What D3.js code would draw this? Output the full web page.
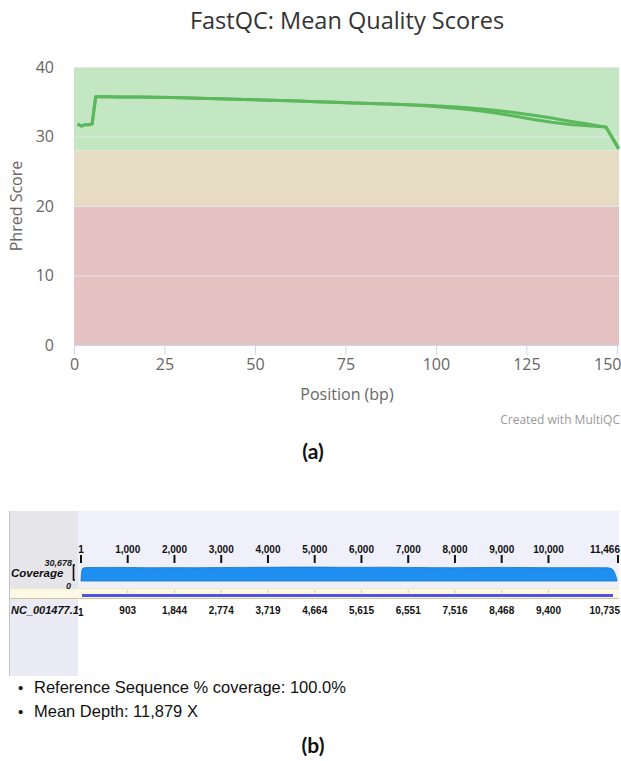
<!DOCTYPE html>
<html>
<head>
<meta charset="utf-8">
<script src="https://cdn.jsdelivr.net/npm/d3@7"></script>
<style>
  body { margin: 0; background: #fff; }
  svg { display: block; }
</style>
</head>
<body>
<div id="chart"></div>
<script>
// ---- panel (a): FastQC mean quality ----
const qualPositions = [1, 2, 3, 4, 5, 6, 7, 8, 9, 12, 17, 22, 27, 32, 37, 42, 47, 52, 57, 62, 67, 72,
    77, 82, 87, 92, 97, 102, 107, 112, 117, 122, 127, 132, 137, 142, 147, 150.5]
const read1Scores = [31.8, 31.5, 31.7, 31.7, 31.8, 35.72, 35.72, 35.72, 35.72, 35.7, 35.68, 35.64, 35.6,
    35.55, 35.48, 35.4, 35.33, 35.26, 35.18, 35.1, 35.01, 34.92, 34.82, 34.74, 34.66, 34.58, 34.48,
    34.36, 34.2, 34.0, 33.75, 33.42, 33.05, 32.65, 32.2, 31.8, 31.35, 28.3]
const read2Scores = [31.8, 31.5, 31.7, 31.7, 31.8, 35.72, 35.72, 35.72, 35.72, 35.7, 35.68, 35.64, 35.6,
    35.55, 35.48, 35.4, 35.33, 35.26, 35.18, 35.1, 35.01, 34.92, 34.82, 34.74, 34.66, 34.56, 34.42,
    34.22, 33.98, 33.7, 33.35, 32.9, 32.45, 32.05, 31.72, 31.55, 31.35, 28.2]
const qualBands = [
    {from: 28, to: 40, color: "#c3e6c3"},
    {from: 20, to: 28, color: "#e6dcc3"},
    {from: 0, to: 20, color: "#e6c3c3"}
]
const qualXTicks = [0, 25, 50, 75, 100, 125, 150]
const qualYTicks = [0, 10, 20, 30, 40]

// ---- panel (b): coverage track ----
const seqLength = 11466
const covPositions = [1, 15, 40, 100, 500, 1000, 1500, 2000, 2500, 3000, 3500, 4000, 4500, 5000, 5500,
    6000, 6500, 7000, 7500, 8000, 8500, 9000, 9500, 10000, 10500, 11000, 11250, 11340, 11400, 11440, 11466]
const covDepth = [0, 14000, 19500, 20600, 20900, 20700, 20300, 20500, 20300, 20600, 20900, 21100, 21300,
    21300, 21100, 21000, 21200, 20800, 20500, 20300, 20600, 20900, 20600, 20400, 20500, 20400, 20300,
    19000, 15000, 8000, 1500]
const covMax = 30678
const alignTicks = [1, 1000, 2000, 3000, 4000, 5000, 6000, 7000, 8000, 9000, 10000, 11466]
const refCoords = [1, 903, 1844, 2774, 3719, 4664, 5615, 6551, 7516, 8468, 9400, 10735]
const summaryLines = ["Reference Sequence % coverage: 100.0%", "Mean Depth: 11,879 X"]

const svg = d3.select("#chart").append("svg")
    .attr("width", 621)
    .attr("height", 761)

const fmt = d3.format(",")

// ===== panel (a) =====
const x = d3.scaleLinear().domain([0, 150.6]).range([74, 619])
const y = d3.scaleLinear().domain([0, 40]).range([345, 67])

const plotA = svg.append("g").attr("font-family", "'Open Sans', sans-serif")

plotA.append("text")
    .attr("x", 347).attr("y", 29)
    .attr("text-anchor", "middle")
    .attr("font-size", 23.5)
    .attr("fill", "#333")
    .text("FastQC: Mean Quality Scores")

plotA.selectAll(".band")
    .data(qualBands)
    .enter().append("rect")
    .attr("class", "band")
    .attr("x", x(0))
    .attr("width", x(150.6) - x(0))
    .attr("y", d => y(d.to))
    .attr("height", d => y(d.from) - y(d.to))
    .attr("fill", d => d.color)

plotA.selectAll(".grid")
    .data(qualYTicks)
    .enter().append("line")
    .attr("class", "grid")
    .attr("x1", x(0)).attr("x2", x(150.6))
    .attr("y1", d => y(d) + 0.5).attr("y2", d => y(d) + 0.5)
    .attr("stroke", "#e6e6e6")

const yAxis = d3.axisLeft(y).tickValues(qualYTicks).tickSize(0).tickPadding(20)
plotA.append("g")
    .attr("transform", `translate(${x(0)},0)`)
    .call(yAxis)
    .call(g => g.select(".domain").remove())
    .call(g => g.selectAll("text")
        .attr("font-family", "'Open Sans', sans-serif")
        .attr("font-size", 16)
        .attr("fill", "#666"))

const xAxis = d3.axisBottom(x).tickValues(qualXTicks).tickSize(10).tickPadding(4)
plotA.append("g")
    .attr("transform", `translate(0,${y(0)})`)
    .call(xAxis)
    .call(g => g.select(".domain").attr("stroke", "#ccd6eb").attr("d", `M${x(0)},0.5H${x(150.6)}`))
    .call(g => g.selectAll(".tick line").attr("stroke", "#ccd6eb"))
    .call(g => g.selectAll("text")
        .attr("font-family", "'Open Sans', sans-serif")
        .attr("font-size", 16)
        .attr("fill", "#666"))
    // keep the last label inside the page, as Highcharts does
    .call(g => g.selectAll(".tick text").filter(d => d === 150)
        .attr("text-anchor", "end").attr("x", 621 - x(150)))

const line = d3.line()
    .x(d => x(d[0]))
    .y(d => y(d[1]))

const series = [read1Scores, read2Scores].map(vals => qualPositions.map((p, i) => [p, vals[i]]))
plotA.selectAll(".qline")
    .data(series)
    .enter().append("path")
    .attr("class", "qline")
    .attr("d", line)
    .attr("fill", "none")
    .attr("stroke", "#5cb85c")
    .attr("stroke-width", 3)
    .attr("stroke-linejoin", "round")

plotA.append("text")
    .attr("transform", "translate(22,206) rotate(-90)")
    .attr("text-anchor", "middle")
    .attr("font-size", 16)
    .attr("fill", "#666")
    .text("Phred Score")

plotA.append("text")
    .attr("x", 347).attr("y", 400)
    .attr("text-anchor", "middle")
    .attr("font-size", 16)
    .attr("fill", "#666")
    .text("Position (bp)")

plotA.append("text")
    .attr("x", 620).attr("y", 424)
    .attr("text-anchor", "end")
    .attr("font-size", 12)
    .attr("fill", "#999")
    .text("Created with MultiQC")

svg.append("text")
    .attr("x", 313).attr("y", 459)
    .attr("text-anchor", "middle")
    .attr("font-family", "Lato, 'Open Sans', sans-serif")
    .attr("font-weight", "bold")
    .attr("font-size", 21)
    .attr("fill", "#111")
    .text("(a)")

// ===== panel (b) =====
const bx = d3.scaleLinear().domain([1, seqLength]).range([81, 617])
const by = d3.scaleLinear().domain([0, covMax]).range([581, 561])

const plotB = svg.append("g")
    .attr("font-family", "'Liberation Sans', Arial, sans-serif")

// backgrounds
plotB.append("rect").attr("x", 10).attr("y", 511).attr("width", 68).attr("height", 165).attr("fill", "#ebebf5")
plotB.append("rect").attr("x", 10).attr("y", 511).attr("width", 68).attr("height", 77).attr("fill", "#e5e5ea")
plotB.append("rect").attr("x", 78).attr("y", 511).attr("width", 541).attr("height", 77).attr("fill", "#eff0fa")
plotB.append("rect").attr("x", 10).attr("y", 588).attr("width", 609).attr("height", 10).attr("fill", "#fbf8e6")
plotB.append("line").attr("x1", 10).attr("x2", 619).attr("y1", 588.5).attr("y2", 588.5).attr("stroke", "#ebe6cf")
plotB.append("line").attr("x1", 10).attr("x2", 619).attr("y1", 598.5).attr("y2", 598.5).attr("stroke", "#cfc89a")
plotB.append("line").attr("x1", 9.5).attr("x2", 9.5).attr("y1", 511).attr("y2", 676).attr("stroke", "#c4c4cc")

// coverage area
const area = d3.area()
    .x((d, i) => bx(covPositions[i]))
    .y0(by(0))
    .y1(d => by(d))
    .curve(d3.curveMonotoneX)

plotB.append("path")
    .datum(covDepth)
    .attr("d", area)
    .attr("fill", "#1e8ff0")
    .attr("stroke", "#1a72c4")
    .attr("stroke-width", 0.8)

// reference sequence bar
plotB.append("line")
    .attr("x1", bx(1) + 1).attr("x2", bx(seqLength) - 4)
    .attr("y1", 595.5).attr("y2", 595.5)
    .attr("stroke", "#5252e8")
    .attr("stroke-width", 3)

// faint ticks in the sequence band
plotB.selectAll(".minor")
    .data(alignTicks.slice(1, -1))
    .enter().append("line")
    .attr("class", "minor")
    .attr("x1", d => bx(d)).attr("x2", d => bx(d))
    .attr("y1", 590).attr("y2", 593)
    .attr("stroke", "#c8c8c8")

// top ruler ticks and labels
plotB.selectAll(".rtick")
    .data(alignTicks)
    .enter().append("line")
    .attr("class", "rtick")
    .attr("x1", (d, i) => i === alignTicks.length - 1 ? bx(d) + 1 : bx(d))
    .attr("x2", (d, i) => i === alignTicks.length - 1 ? bx(d) + 1 : bx(d))
    .attr("y1", 555).attr("y2", 563)
    .attr("stroke", "#111")
    .attr("stroke-width", 2)

plotB.selectAll(".rlabel")
    .data(alignTicks)
    .enter().append("text")
    .attr("class", "rlabel")
    .attr("x", (d, i) => i === alignTicks.length - 1 ? 620 : bx(d))
    .attr("y", 553)
    .attr("text-anchor", (d, i) => i === alignTicks.length - 1 ? "end" : "middle")
    .attr("font-size", 10)
    .attr("font-weight", "bold")
    .attr("fill", "#111")
    .text(d => fmt(d))

// reference coordinate labels
plotB.selectAll(".clabel")
    .data(refCoords)
    .enter().append("text")
    .attr("class", "clabel")
    .attr("x", (d, i) => i === 0 ? 78 : (i === refCoords.length - 1 ? 620 : bx(alignTicks[i])))
    .attr("y", (d, i) => i === 0 ? 616 : 614)
    .attr("text-anchor", (d, i) => i === 0 ? "start" : (i === refCoords.length - 1 ? "end" : "middle"))
    .attr("font-size", 10)
    .attr("font-weight", "bold")
    .attr("fill", "#111")
    .text(d => fmt(d))

// track labels
plotB.append("text")
    .attr("x", 72).attr("y", 566)
    .attr("text-anchor", "end")
    .attr("font-size", 9)
    .attr("font-weight", "bold")
    .attr("font-style", "italic")
    .attr("fill", "#222")
    .text(fmt(covMax))

plotB.append("text")
    .attr("x", 11).attr("y", 577)
    .attr("font-size", 11.5)
    .attr("font-weight", "bold")
    .attr("font-style", "italic")
    .attr("fill", "#111")
    .text("Coverage")

plotB.append("text")
    .attr("x", 71).attr("y", 589)
    .attr("text-anchor", "end")
    .attr("font-size", 9)
    .attr("font-weight", "bold")
    .attr("font-style", "italic")
    .attr("fill", "#222")
    .text("0")

plotB.append("path")
    .attr("d", "M75,565H73.5V580H75")
    .attr("fill", "none")
    .attr("stroke", "#111")
    .attr("stroke-width", 1.6)

plotB.append("text")
    .attr("x", 11).attr("y", 614)
    .attr("font-size", 11)
    .attr("font-weight", "bold")
    .attr("font-style", "italic")
    .attr("fill", "#111")
    .text("NC_001477.1")

// summary bullets
const bullets = plotB.selectAll(".bullet")
    .data(summaryLines)
    .enter().append("g")
    .attr("class", "bullet")
    .attr("transform", (d, i) => `translate(0,${693 + i * 24})`)

bullets.append("text")
    .attr("x", 18)
    .attr("font-size", 15)
    .attr("fill", "#111")
    .text("\u2022")

bullets.append("text")
    .attr("x", 34)
    .attr("font-size", 16.5)
    .attr("fill", "#111")
    .text(d => d)

svg.append("text")
    .attr("x", 313).attr("y", 753)
    .attr("text-anchor", "middle")
    .attr("font-family", "Lato, 'Open Sans', sans-serif")
    .attr("font-weight", "bold")
    .attr("font-size", 21)
    .attr("fill", "#111")
    .text("(b)")
</script>
</body>
</html>
